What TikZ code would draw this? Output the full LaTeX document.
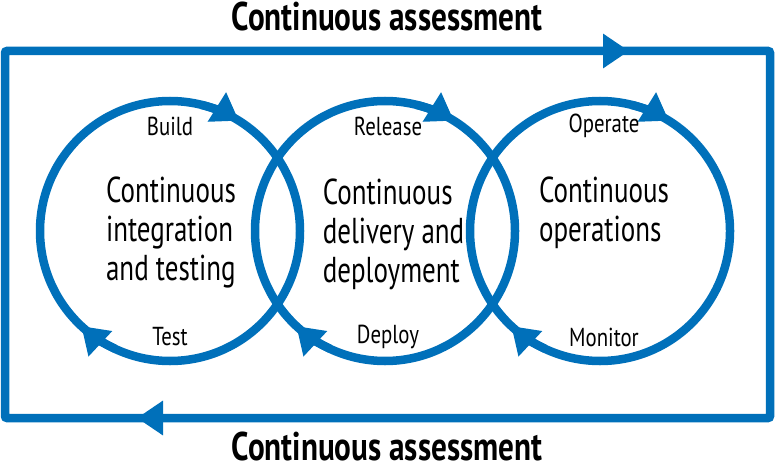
\documentclass[tikz,border=0pt]{standalone}
\usepackage{fontspec}
\setmainfont{PT Sans}[FakeStretch=0.82]
\newfontfamily\bodyfont{PT Sans}[FakeStretch=0.75]
\newfontfamily\labelfont{PT Sans}[FakeStretch=0.8]
\newfontfamily\titlefont{PT Sans Bold}[FakeStretch=0.78]
\usetikzlibrary{arrows.meta}
\definecolor{cblue}{RGB}{0,112,186}
\tikzset{
  loopline/.style={draw=cblue, line width=8.5pt},
  arrowpart/.style={draw=cblue, line width=8.5pt, -{Triangle[length=26pt,width=33pt]}},
  bodytext/.style={align=left, font=\bodyfont\fontsize{36}{39}\selectfont, inner sep=0pt},
  steplabel/.style={font=\labelfont\fontsize{26}{28}\selectfont, inner sep=0pt},
  titletext/.style={font=\titlefont\fontsize{40}{44}\selectfont, inner sep=0pt, anchor=base, text depth=0pt}
}
\begin{document}
\begin{tikzpicture}[x=1pt,y=1pt]
\useasboundingbox (0,0) rectangle (775,469);
% outer frame
\coordinate (tl) at (5,418);
\coordinate (br) at (770,51);
\draw[loopline, rounded corners=2pt] (tl) rectangle (br);
\coordinate (ta0) at (595,418);
\coordinate (ta1) at (629,418);
\draw[arrowpart] (ta0) -- (ta1);
\coordinate (ba0) at (171,51);
\coordinate (ba1) at (137,51);
\draw[arrowpart] (ba0) -- (ba1);
\node[titletext] (ttop) at (387,438) {Continuous assessment};
\node[titletext] (tbot) at (387,9) {Continuous assessment};
% circles
\foreach \cx/\nm in {170/c1, 385/c2, 600/c3}{
  \coordinate (\nm) at (\cx,238);
  \draw[loopline] (\nm) circle[radius=130];
  \draw[arrowpart] ([shift={(76:130)}]\nm) arc[start angle=76, end angle=58, radius=130];
  \draw[arrowpart] ([shift={(245:130)}]\nm) arc[start angle=245, end angle=227, radius=130];
}
% step labels
\node[steplabel] (build) at (170,343) {Build};
\node[steplabel] (test) at (170,132) {Test};
\node[steplabel] (release) at (388,343) {Release};
\node[steplabel] (deploy) at (388,132) {Deploy};
\node[steplabel] (operate) at (604,343) {Operate};
\node[steplabel] (monitor) at (604,132) {Monitor};
% body texts
\node[bodytext] (ci) at (171,237) {Continuous\\integration\\and testing};
\node[bodytext] (cd) at (393.5,235) {Continuous\\delivery and\\deployment};
\node[bodytext] (co) at (604,256.5) {Continuous\\operations};
\end{tikzpicture}
\end{document}
